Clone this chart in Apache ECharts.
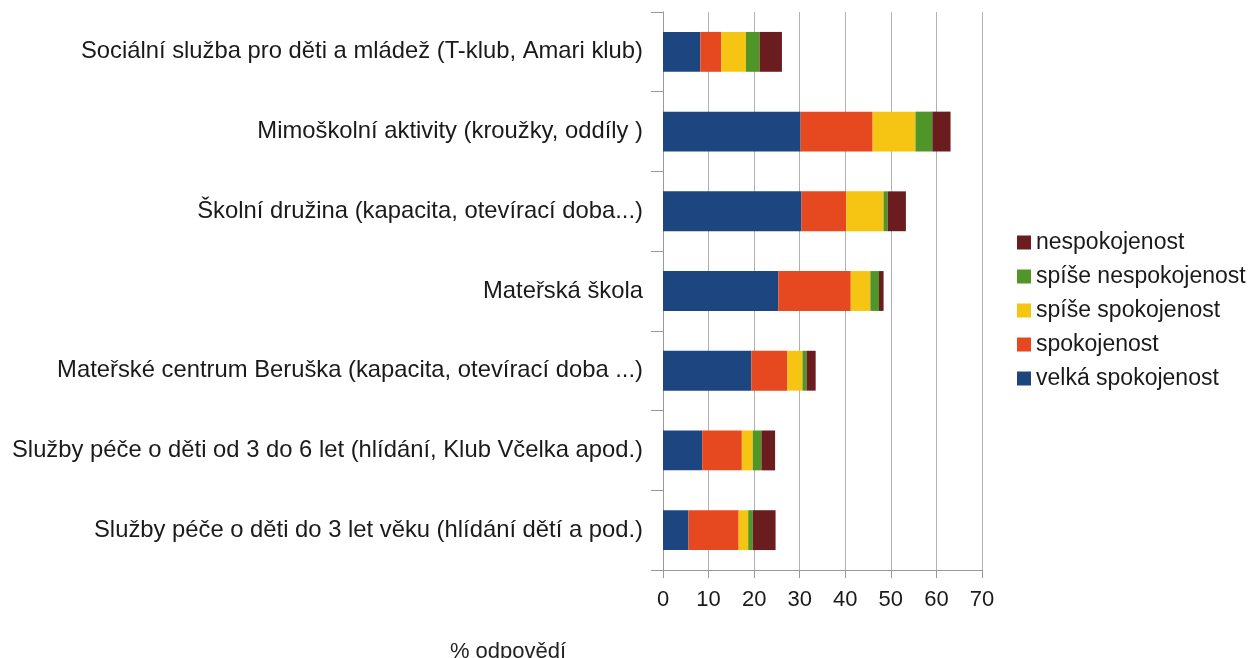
<!DOCTYPE html>
<html>
<head>
<meta charset="utf-8">
<script src="https://cdn.jsdelivr.net/npm/echarts@6/dist/echarts.min.js"></script>
<style>
  html, body { margin: 0; padding: 0; background: #fff; }
  #chart { width: 1254px; height: 658px; }
</style>
</head>
<body>
<div id="chart"></div>
<script>
const categories = [
  'Sociální služba pro děti a mládež (T-klub, Amari klub)',
  'Mimoškolní aktivity (kroužky, oddíly )',
  'Školní družina (kapacita, otevírací doba...)',
  'Mateřská škola',
  'Mateřské centrum Beruška (kapacita, otevírací doba ...)',
  'Služby péče o děti od 3 do 6 let (hlídání, Klub Včelka apod.)',
  'Služby péče o děti do 3 let věku (hlídání dětí a pod.)'
];
const velkaSpokojenost = [8.2, 30.2, 30.4, 25.3, 19.4, 8.6, 5.6];
const spokojenost = [4.6, 15.8, 9.8, 15.9, 7.9, 8.7, 11.0];
const spiseSpokojenost = [5.4, 9.4, 8.2, 4.3, 3.3, 2.4, 2.1];
const spiseNespokojenost = [3.0, 3.7, 0.9, 1.9, 0.9, 1.9, 1.0];
const nespokojenost = [4.9, 4.0, 4.0, 1.0, 2.0, 3.0, 5.0];
const xTicks = [0, 10, 20, 30, 40, 50, 60, 70];

const chart = echarts.init(document.getElementById('chart'));

const mk = (name, data, color) => ({
  name: name,
  type: 'bar',
  stack: 'total',
  data: data,
  barWidth: '50%',
  itemStyle: { color: color },
  emphasis: { disabled: true }
});

const option = {
  animation: false,
  textStyle: { fontFamily: 'Liberation Sans, Arial, sans-serif' },
  title: {
    text: '% odpovědí',
    left: 503,
    top: 636,
    textAlign: 'center',
    textStyle: { fontSize: 22, fontWeight: 'normal', color: '#222' }
  },
  legend: {
    orient: 'vertical',
    left: 1012,
    top: 226,
    itemWidth: 14,
    itemHeight: 14,
    itemGap: 11,
    icon: 'rect',
    textStyle: { fontSize: 23, color: '#1a1a1a' },
    data: ['nespokojenost', 'spíše nespokojenost', 'spíše spokojenost', 'spokojenost', 'velká spokojenost']
  },
  grid: { left: 663, right: 272, top: 12, bottom: 88 },
  xAxis: {
    type: 'value',
    min: 0,
    max: 70,
    interval: 10,
    axisLine: { show: true, lineStyle: { color: '#999' } },
    axisTick: { show: true, length: 8, lineStyle: { color: '#999' } },
    axisLabel: {
      fontSize: 22,
      color: '#1a1a1a',
      margin: 19,
      formatter: v => xTicks.includes(v) ? String(v) : ''
    },
    splitLine: { show: true, lineStyle: { color: '#b0b0b8' } }
  },
  yAxis: {
    type: 'category',
    inverse: true,
    data: categories,
    axisLine: { show: true, lineStyle: { color: '#999' } },
    axisTick: { show: true, length: 12, lineStyle: { color: '#999' } },
    axisLabel: { fontSize: 23.8, color: '#1a1a1a', margin: 20 }
  },
  series: [
    mk('velká spokojenost', velkaSpokojenost, '#1d4681'),
    mk('spokojenost', spokojenost, '#e6481f'),
    mk('spíše spokojenost', spiseSpokojenost, '#f6c514'),
    mk('spíše nespokojenost', spiseNespokojenost, '#4f9527'),
    mk('nespokojenost', nespokojenost, '#6a1c1e')
  ]
};

chart.setOption(option);
</script>
</body>
</html>
